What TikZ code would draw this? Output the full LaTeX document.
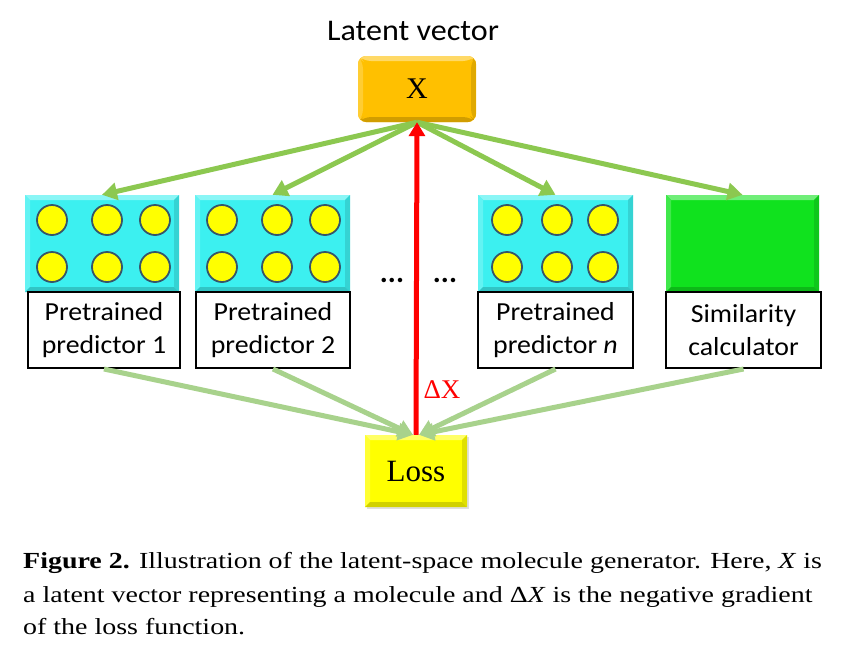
\documentclass[tikz,border=0pt]{standalone}
\usepackage{fontspec}
\setmainfont{Liberation Serif}
\newfontfamily\calib{Carlito}
\newfontfamily\calibw[FakeStretch=1.07]{Carlito}
\newfontfamily\capfont[FakeStretch=1.215]{Liberation Serif}
\usetikzlibrary{arrows.meta,shadows}
\definecolor{xgold}{RGB}{255,192,0}
\definecolor{cyanb}{RGB}{60,240,240}
\definecolor{greenb}{RGB}{16,226,30}
\definecolor{yellowb}{RGB}{255,255,0}
\definecolor{topgreen}{RGB}{140,200,80}
\definecolor{lowgreen}{RGB}{168,210,140}
\definecolor{circline}{RGB}{55,85,105}
\tikzset{
  bevel/.style={fill=#1, path picture={
    \fill[#1!60!white] (path picture bounding box.north west) -- (path picture bounding box.north east)
      -- ([xshift=-5pt,yshift=-5pt]path picture bounding box.north east) -- ([xshift=5pt,yshift=-5pt]path picture bounding box.north west) -- cycle;
    \fill[#1!80!white] (path picture bounding box.north west) -- (path picture bounding box.south west)
      -- ([xshift=5pt,yshift=5pt]path picture bounding box.south west) -- ([xshift=5pt,yshift=-5pt]path picture bounding box.north west) -- cycle;
    \fill[#1!88!black] (path picture bounding box.north east) -- (path picture bounding box.south east)
      -- ([xshift=-5pt,yshift=5pt]path picture bounding box.south east) -- ([xshift=-5pt,yshift=-5pt]path picture bounding box.north east) -- cycle;
    \fill[#1!82!black] (path picture bounding box.south west) -- (path picture bounding box.south east)
      -- ([xshift=-5pt,yshift=5pt]path picture bounding box.south east) -- ([xshift=5pt,yshift=5pt]path picture bounding box.south west) -- cycle;
  }},
  predbox/.style={rectangle, minimum height=97pt, inner sep=0pt, bevel=#1},
  labelbox/.style={rectangle, draw=black, line width=2pt, fill=white, minimum height=76pt, inner sep=0pt,
    align=center, font=\calibw\fontsize{26}{33}\selectfont},
  mol/.style={circle, draw=circline, line width=1.8pt, fill=yellowb, minimum size=30pt, inner sep=0pt},
  toparrow/.style={draw=topgreen, line width=5pt, -{Triangle[length=15pt,width=17pt]}},
  lowarrow/.style={draw=lowgreen, line width=5pt, -{Triangle[length=15pt,width=17pt]}},
  gradarrow/.style={draw=red, line width=5pt, -{Triangle[length=14pt,width=16pt]}},
  dotsnode/.style={font=\calib\fontsize{30}{30}\selectfont\bfseries, inner sep=0pt, anchor=base},
  captionline/.style={anchor=base west, inner sep=0pt, font=\capfont\fontsize{23}{26}\selectfont},
}
\begin{document}
\begin{tikzpicture}[x=1pt,y=-1pt]
\useasboundingbox (0,0) rectangle (866,653);
\fill[white] (0,0) rectangle (866,653);

% title and X
\node[font=\calibw\fontsize{30}{36}\selectfont, anchor=base] (title) at (413,40) {Latent vector};
\node[rectangle, rounded corners=8pt, bevel=xgold, minimum width=118pt, minimum height=66pt, inner sep=0pt,
  font=\fontsize{30}{36}\selectfont] (X) at (417,89) {X};

% predictors
\node[predbox=cyanb, minimum width=154pt] (p1) at (102,243.5) {};
\node[labelbox, minimum width=152pt] (l1) at (104,330) {Pretrained\\predictor 1};
\node[predbox=cyanb, minimum width=155pt] (p2) at (272.5,243.5) {};
\node[labelbox, minimum width=154pt] (l2) at (273,330) {Pretrained\\predictor 2};
\node[predbox=cyanb, minimum width=155pt] (pn) at (555.5,243.5) {};
\node[labelbox, minimum width=155pt] (ln) at (555.5,330) {Pretrained\\predictor \textit{n}};
\node[predbox=greenb, minimum width=153pt] (sim) at (742.5,243.5) {};
\node[labelbox, minimum width=155pt] (ls) at (743.5,330) {Similarity\\calculator};

% molecules
\foreach \bx/\a/\b/\c in {p1/52/107/155, p2/222/277/325, pn/507/557/603}{
  \foreach \cx [count=\i] in {\a,\b,\c}{
    \node[mol] (\bx-u\i) at (\cx,220) {};
    \node[mol] (\bx-d\i) at (\cx,267) {};
  }
}

% dots
\node[dotsnode] (dots1) at (392,282) {...};
\node[dotsnode] (dots2) at (445,282) {...};

% loss
\node[rectangle, bevel=yellowb, minimum width=102pt, minimum height=72pt, inner sep=0pt,
  drop shadow={opacity=0.25, shadow xshift=2pt, shadow yshift=-2pt},
  font=\fontsize{31}{36}\selectfont] (loss) at (416,471) {Loss};

% connectors
\draw[lowarrow] (l1.south) -- ([xshift=-3pt]loss.north);
\draw[lowarrow] (l2.south) -- ([xshift=-3pt]loss.north);
\draw[lowarrow] (ln.south) -- ([xshift=3pt]loss.north);
\draw[lowarrow] (ls.south) -- ([xshift=3pt]loss.north);
\draw[toparrow] (X.south) -- (p1.north);
\draw[toparrow] (X.south) -- (p2.north);
\draw[toparrow] (X.south) -- (pn.north);
\draw[toparrow] (X.south) -- (sim.north);
\draw[gradarrow] (loss.north) -- (X.south);
\node[text=red, font=\fontsize{27}{32}\selectfont, anchor=base] (dx) at (442,398) {ΔX};

% caption
\node[captionline] (c1) at (23,568) {\textbf{Figure 2.} Illustration of the latent-space molecule generator. Here, \textit{X} is};
\node[captionline] (c2) at (23,602) {a latent vector representing a molecule and Δ\textit{X} is the negative gradient};
\node[captionline] (c3) at (23,634) {of the loss function.};
\end{tikzpicture}
\end{document}
